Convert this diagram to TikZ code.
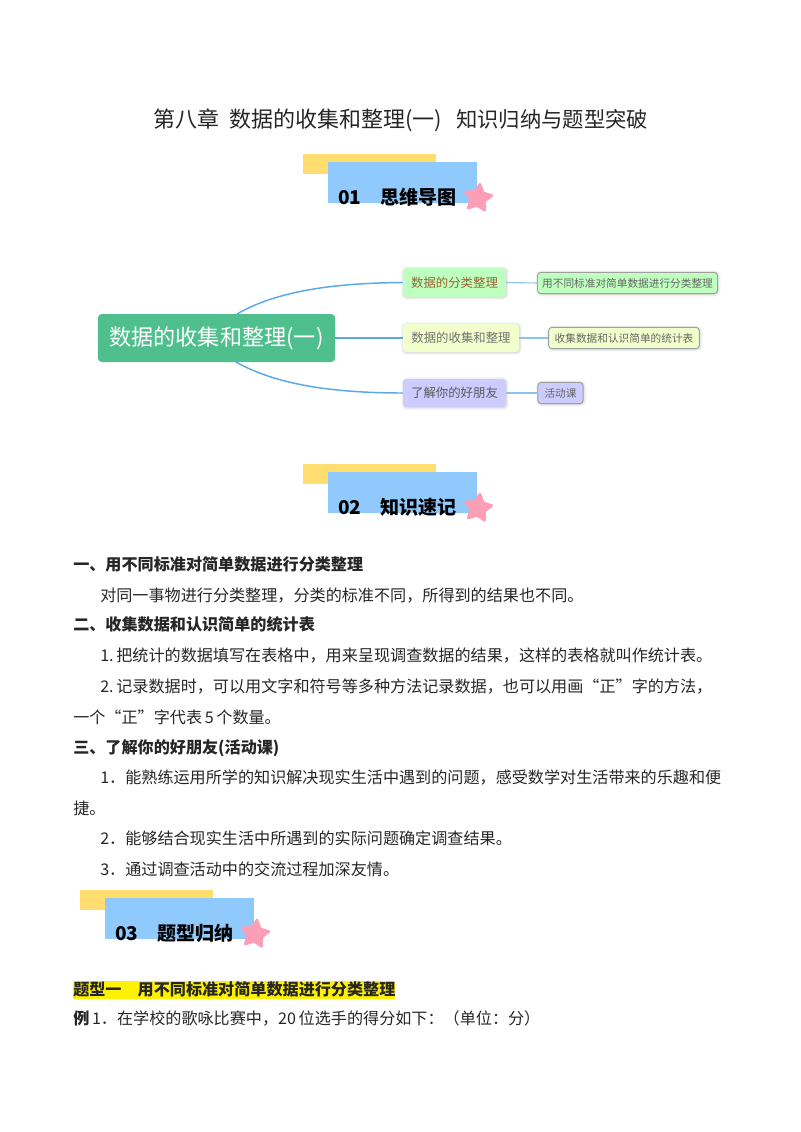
\documentclass[tikz,border=0pt]{standalone}
\usepackage{fontspec}
\setmainfont{Noto Sans CJK SC}
\usetikzlibrary{positioning, calc, shapes.geometric, shadows.blur}
\definecolor{rootgreen}{HTML}{4FC08D}
\definecolor{linkblue}{HTML}{5AA9E6}
\definecolor{bannerblue}{HTML}{90CAFD}
\definecolor{banneryellow}{HTML}{FFDD6E}
\definecolor{starpink}{HTML}{FC9FB6}
\tikzset{>=latex,
    bodytext/.style={anchor=base west,inner sep=0pt,font=\fontsize{12.08}{12}\selectfont,text=black!85},
    headtext/.style={bodytext,font=\fontsize{12.08}{12}\selectfont\bfseries},
    bannertext/.style={anchor=base west,inner sep=0pt,font=\fontsize{14.3}{15}\selectfont\bfseries},
    branch/.style={rounded corners=2.5pt,inner sep=0pt,font=\fontsize{9.3}{9.5}\selectfont,blur shadow={shadow blur steps=4,shadow xshift=0.4pt,shadow yshift=-0.4pt,shadow opacity=25}},
    leaf/.style={branch,draw=gray!75,line width=0.7pt,font=\fontsize{8}{8}\selectfont},
    link/.style={line width=1.1pt,linkblue},
    thinlink/.style={line width=0.8pt,linkblue!70}
}
\newcommand{\bannerrow}[5]{%
    \fill[banneryellow] (#1,#2) rectangle ++(133,20);
    \fill[bannerblue] (#1+25,#2+8) rectangle ++(149,40.5);
    \node[bannertext] (#3num) at (#1+35,#2+50) {#4};
    \node[bannertext] (#3text) at (#1+77,#2+50) {#5};
    \node[star,star points=5,star point ratio=1.9,fill=starpink,draw=starpink,line width=2pt,line join=round,inner sep=3.9pt,rotate=-8] (#3star) at (#1+175,#2+44) {};
}
\begin{document}
\begin{tikzpicture}[x=0.75pt,y=-0.75pt]
    \useasboundingbox (0,0) rectangle (800,1132);
    \node[anchor=base west,inner sep=0pt,font=\fontsize{16.5}{16.5}\selectfont,text=black!85] (title) at (153,127) {第八章\hspace{7.5pt}数据的收集和整理(一)\hspace{10.5pt}{\fontsize{16}{16}\selectfont 知识归纳与题型突破}};

    \bannerrow{303}{154}{sone}{01}{思维导图}
    \bannerrow{303}{464}{stwo}{02}{知识速记}
    \bannerrow{80}{890}{sthree}{03}{题型归纳}

    % mind map
    \node[fill=rootgreen,rounded corners=3pt,text=white,minimum width=178pt,minimum height=36pt,inner sep=0pt,font=\fontsize{16.6}{17}\selectfont] (root) at (216.5,338) {\raisebox{-1pt}{数据的收集和整理(一)}};
    \node[branch,fill=green!25!white,text=brown!80!black,minimum width=77pt,minimum height=21.5pt] (sort) at (454.5,282.5) {数据的分类整理};
    \node[branch,fill=lime!20!white,text=gray!90!black,minimum width=87pt,minimum height=21pt] (collect) at (461,338) {数据的收集和整理};
    \node[branch,fill=blue!20!white,text=black!65,minimum width=77pt,minimum height=21pt] (friend) at (454.5,393) {了解你的好朋友};
    \node[leaf,fill=green!25!white,text=black!60,minimum width=135pt,minimum height=16pt] (sortleaf) at (627.5,283) {用不同标准对简单数据进行分类整理};
    \node[leaf,fill=lime!20!white,text=black!60,minimum width=113pt,minimum height=16pt] (collectleaf) at (624,338) {收集数据和认识简单的统计表};
    \node[leaf,fill=blue!20!white,text=black!60,minimum width=34pt,minimum height=16pt] (friendleaf) at (560.5,393) {活动课};
    \coordinate (rootup) at (237,314);
    \coordinate (rootdown) at (236,362);
    \draw[link] (rootup) .. controls (275,292) and (330,283) .. (sort.west);
    \draw[link] (root.east) -- (collect.west);
    \draw[link] (rootdown) .. controls (275,384) and (330,393) .. (friend.west);
    \draw[thinlink] (sort.east) -- (sortleaf.west);
    \draw[thinlink] (collect.east) -- (collectleaf.west);
    \draw[thinlink] (friend.east) -- (friendleaf.west);

    % notes
    \node[headtext] (hone) at (73,570) {一、用不同标准对简单数据进行分类整理};
    \node[bodytext] (lineone) at (100,601) {对同一事物进行分类整理，分类的标准不同，所得到的结果也不同。};
    \node[headtext] (htwo) at (73,630) {二、收集数据和认识简单的统计表};
    \node[bodytext] (linetwo) at (100,661) {1.\,把统计的数据填写在表格中，用来呈现调查数据的结果，这样的表格就叫作统计表。};
    \node[bodytext] (linethree) at (100,692) {2.\,记录数据时，可以用文字和符号等多种方法记录数据，也可以用画“正”字的方法，};
    \node[bodytext] (linefour) at (73,723) {一个“正”字代表\,5\,个数量。};
    \node[headtext] (hthree) at (73,753) {三、了解你的好朋友(活动课)};
    \node[bodytext] (linefive) at (100,783) {1．能熟练运用所学的知识解决现实生活中遇到的问题，感受数学对生活带来的乐趣和便};
    \node[bodytext] (linesix) at (73,814) {捷。};
    \node[bodytext] (lineseven) at (100,844) {2．能够结合现实生活中所遇到的实际问题确定调查结果。};
    \node[bodytext] (lineeight) at (100,875) {3．通过调查活动中的交流过程加深友情。};

    \fill[yellow] (73,981) rectangle (395,999);
    \node[headtext] (htype) at (73,995) {题型一\quad 用不同标准对简单数据进行分类整理};
    \node[bodytext] (example) at (73,1024) {\textbf{例}\,1．在学校的歌咏比赛中，20\,位选手的得分如下：（单位：分）};
\end{tikzpicture}
\end{document}
